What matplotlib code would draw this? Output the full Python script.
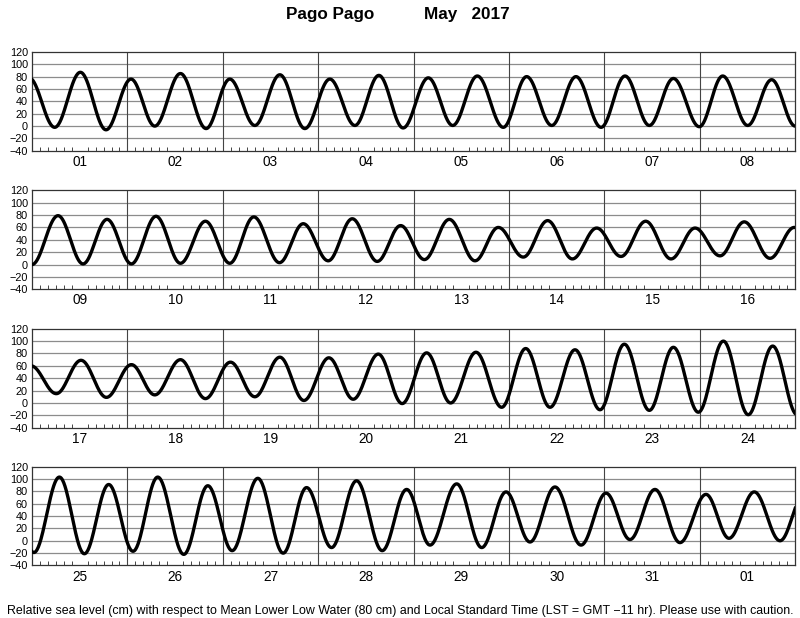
import numpy as np
import matplotlib
matplotlib.use("Agg")
import matplotlib.pyplot as plt
from matplotlib.ticker import MultipleLocator

plt.rcParams["font.family"] = ["Liberation Sans", "DejaVu Sans"]

# ---------------------------------------------------------------------------
# Data: predicted high / low waters, time in days from 1 May 00:00 LST
# ---------------------------------------------------------------------------

ext_time = [
    -0.03, 0.238, 0.507, 0.776, 1.038, 1.287, 1.556, 1.825, 2.073, 2.336,
    2.598, 2.86, 3.122, 3.385, 3.636, 3.89, 4.154, 4.41, 4.668, 4.94,
    5.185, 5.448, 5.702, 5.965, 6.216, 6.471, 6.723, 6.995, 7.24, 7.502,
    7.753, 8.0,
    8.273, 8.535, 8.787, 9.042, 9.30, 9.556, 9.818, 10.073, 10.325, 10.594,
    10.843, 11.105, 11.357, 11.619, 11.864, 12.113, 12.374, 12.644, 12.888, 13.15,
    13.405, 13.664, 13.919, 14.174, 14.433, 14.698, 14.95, 15.212, 15.466, 15.736,
    15.99,
    16.255, 16.514, 16.78, 17.042, 17.287, 17.556, 17.818, 18.08, 18.336, 18.598,
    18.85, 19.112, 19.367, 19.63, 19.88, 20.137, 20.388, 20.654, 20.923, 21.175,
    21.43, 21.692, 21.954, 22.209, 22.471, 22.723, 22.985, 23.247, 23.508, 23.764,
    24.02,
    24.287, 24.549, 24.804, 25.059, 25.318, 25.591, 25.843, 26.098, 26.367, 26.633,
    26.878, 27.14, 27.402, 27.671, 27.927, 28.172, 28.452, 28.714, 28.969, 29.22,
    29.482, 29.755, 30.017, 30.268, 30.53, 30.792, 31.065, 31.306, 31.571, 31.841,
    32.09,
]

ext_height = [
    78, -2, 87, -6, 76, 0, 85, -4, 76, 1,
    83, -4, 76, 1, 82, -3, 78, 1, 81, -2,
    80, 1, 80, -2, 81, 1, 77, -1, 81, 1,
    75, 0,
    79, 1, 73, 1, 78, 2, 70, 2, 77, 3,
    66, 6, 74, 5, 63, 8, 73, 6, 60, 12,
    71, 9, 59, 13, 70, 9, 59, 14, 69, 10,
    60,
    15, 69, 9, 62, 13, 70, 7, 66, 10, 74,
    4, 73, 6, 79, -1, 81, 0, 82, -7, 88,
    -7, 86, -11, 95, -12, 90, -15, 100, -19, 92,
    -19,
    103, -21, 91, -17, 103, -22, 89, -16, 101, -20,
    86, -11, 97, -16, 83, -7, 92, -11, 79, -2,
    87, -7, 77, 2, 83, -3, 75, 4, 79, 0,
    74,
]

day_labels = [
    ["01", "02", "03", "04", "05", "06", "07", "08"],
    ["09", "10", "11", "12", "13", "14", "15", "16"],
    ["17", "18", "19", "20", "21", "22", "23", "24"],
    ["25", "26", "27", "28", "29", "30", "31", "01"],
]

station = "Pago Pago"
month_title = "May   2017"
footer = ("Relative sea level (cm) with respect to Mean Lower Low Water (80 cm) "
          "and Local Standard Time (LST = GMT \u221211 hr). Please use with caution.")


# ---------------------------------------------------------------------------
# Build a smooth curve between successive extremes (half-cosine shape)
# ---------------------------------------------------------------------------

def tide_curve(times, heights, n=40):
    xs, ys = [], []
    for i in range(len(times) - 1):
        s = np.linspace(0, 1, n, endpoint=False)
        w = (1 - np.cos(np.pi * s)) / 2
        xs.append(times[i] + (times[i + 1] - times[i]) * s)
        ys.append(heights[i] + (heights[i + 1] - heights[i]) * w)
    xs.append([times[-1]])
    ys.append([heights[-1]])
    return np.concatenate(xs), np.concatenate(ys)


t, h = tide_curve(ext_time, ext_height)

fig = plt.figure(figsize=(8.0, 6.18), dpi=100)

left, width = 0.040, 0.954
bottoms = [0.756, 0.532, 0.308, 0.085]
height = 0.160

for p, labels in enumerate(day_labels):
    ax = fig.add_axes([left, bottoms[p], width, height])
    x0 = 8 * p

    for yv in range(-20, 120, 20):
        ax.axhline(yv, color="#8c8c8c", lw=0.9, zorder=1)
    for d in range(1, 8):
        ax.axvline(x0 + d, color="#444444", lw=0.8, zorder=1)

    ax.plot(t, h, color="black", lw=2.4, zorder=3, solid_capstyle="round")

    ax.set_xlim(x0, x0 + 8)
    ax.set_ylim(-40, 120)

    ax.set_yticks(range(-40, 121, 20))
    ax.set_yticklabels([str(v).replace("-", "\u2212") for v in range(-40, 121, 20)])
    ax.tick_params(axis="y", length=0, pad=3, labelsize=7.8)

    ax.set_xticks([x0 + d + 0.5 for d in range(8)])
    ax.set_xticklabels(labels)
    ax.xaxis.set_minor_locator(MultipleLocator(1 / 12))
    ax.tick_params(axis="x", which="major", length=0, pad=3, labelsize=9.8)
    ax.tick_params(axis="x", which="minor", direction="in", length=3,
                   width=0.7, color="#444444", bottom=True, top=False)

    for sp in ax.spines.values():
        sp.set_color("#333333")
        sp.set_linewidth(0.9)

fig.text(0.4125, 0.977, station, ha="center", va="center",
         fontsize=12.3, fontweight="bold")
fig.text(0.584, 0.977, month_title, ha="center", va="center",
         fontsize=12.3, fontweight="bold")
fig.text(0.5, 0.012, footer, ha="center", va="center", fontsize=8.9)

fig.savefig("out.png", dpi=100)
